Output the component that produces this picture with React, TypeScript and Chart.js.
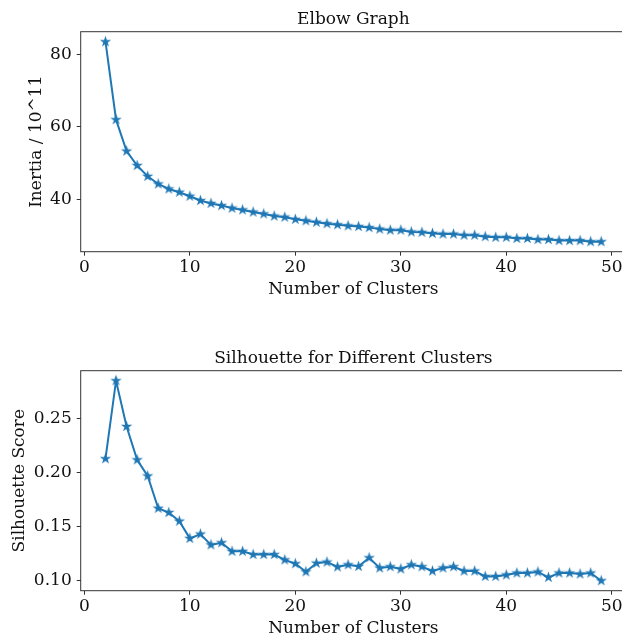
import React, { useEffect, useRef } from "react";
import { Chart, registerables } from "chart.js";

Chart.register(...registerables);

// Number of clusters tried (k)
const clusters = [
  2, 3, 4, 5, 6, 7, 8, 9, 10, 11, 12, 13, 14, 15, 16, 17, 18, 19, 20, 21, 22, 23, 24, 25,
  26, 27, 28, 29, 30, 31, 32, 33, 34, 35, 36, 37, 38, 39, 40, 41, 42, 43, 44, 45, 46, 47, 48, 49,
];

// KMeans inertia, in units of 10^11
const inertia = [
  83.6, 62.0, 53.3, 49.3, 46.3, 44.2, 42.8, 41.9, 40.8, 39.6, 38.8, 38.2, 37.5, 37.0, 36.4, 35.9,
  35.3, 35.0, 34.4, 34.0, 33.6, 33.2, 32.9, 32.6, 32.4, 32.1, 31.7, 31.4, 31.4, 30.9, 30.8, 30.5,
  30.3, 30.3, 30.0, 30.0, 29.6, 29.4, 29.4, 29.1, 29.1, 28.8, 28.8, 28.5, 28.5, 28.5, 28.2, 28.2,
];

// Mean silhouette score per k
const silhouette = [
  0.213, 0.2855, 0.243, 0.212, 0.197, 0.167, 0.163, 0.155, 0.139, 0.143, 0.133, 0.135, 0.127,
  0.127, 0.124, 0.124, 0.124, 0.119, 0.1155, 0.108, 0.116, 0.117, 0.1125, 0.1145, 0.113, 0.121,
  0.1115, 0.1127, 0.1106, 0.1145, 0.1127, 0.1087, 0.1115, 0.1127, 0.1087, 0.1087, 0.1037, 0.1037,
  0.105, 0.1068, 0.1068, 0.1078, 0.1028, 0.1068, 0.1068, 0.1059, 0.1068, 0.0997,
];

const xTicksStep = 10;

const LINE = "#1f77b4";
const INK = "#111111";
const SPINE = "#333333";
const FAMILY = "'DejaVu Serif', serif";
const FONT_SIZE = 17;

const CANVAS_W = 660;
const CANVAS_H = 310;
const PLOT_RIGHT = 626;

// Filled five-point star, like matplotlib's "*" marker
function makeStar(color: string): HTMLCanvasElement {
  const c = document.createElement("canvas");
  const s = 13;
  c.width = s;
  c.height = s;
  const ctx = c.getContext("2d")!;
  const R = 4.2;
  const r = R * 0.382;
  ctx.beginPath();
  for (let i = 0; i < 10; i++) {
    const a = -Math.PI / 2 + (i * Math.PI) / 5;
    const rad = i % 2 ? r : R;
    ctx.lineTo(s / 2 + rad * Math.cos(a), s / 2 + rad * Math.sin(a));
  }
  ctx.closePath();
  ctx.fillStyle = color;
  ctx.fill();
  ctx.strokeStyle = color;
  ctx.lineWidth = 1.1;
  ctx.lineJoin = "miter";
  ctx.stroke();
  return c;
}

// Axes title above the plot area plus a full frame around it
const panelFrame = {
  id: "panelFrame",
  afterDatasetsDraw(chart: any, _args: any, opts: any) {
    const { ctx, chartArea } = chart;
    ctx.save();
    ctx.strokeStyle = SPINE;
    ctx.lineWidth = 1;
    ctx.strokeRect(chartArea.left, chartArea.top, chartArea.right - chartArea.left, chartArea.bottom - chartArea.top);
    ctx.fillStyle = INK;
    ctx.font = `${FONT_SIZE}px ${FAMILY}`;
    ctx.textAlign = "center";
    ctx.textBaseline = "alphabetic";
    ctx.fillText(opts.text, (chartArea.left + chartArea.right) / 2, chartArea.top - 7.5);
    ctx.restore();
  },
};

function padded(values: number[]): [number, number] {
  const lo = Math.min(...values);
  const hi = Math.max(...values);
  const m = (hi - lo) * 0.05;
  return [lo - m, hi + m];
}

type PanelProps = {
  title: string;
  yLabel: string;
  values: number[];
  yStep: number;
  decimals: number;
  yTitleOffset: number;
  top: number;
};

function Panel({ title, yLabel, values, yStep, decimals, yTitleOffset, top }: PanelProps) {
  const ref = useRef<HTMLCanvasElement | null>(null);

  useEffect(() => {
    const canvas = ref.current;
    if (!canvas) return;
    const star = makeStar(LINE);
    const [xMin, xMax] = padded(clusters);
    const [yMin, yMax] = padded(values);
    const font = { family: FAMILY, size: FONT_SIZE };
    const grid = {
      display: true,
      drawOnChartArea: false,
      drawTicks: true,
      tickLength: 4,
      color: SPINE,
      lineWidth: 1,
    };

    const chart = new Chart(canvas, {
      type: "line",
      data: {
        datasets: [
          {
            data: clusters.map((k, i) => ({ x: k, y: values[i] })),
            borderColor: LINE,
            backgroundColor: LINE,
            borderWidth: 2,
            tension: 0,
            fill: false,
            pointStyle: star,
            pointRadius: 4,
          },
        ],
      },
      options: {
        responsive: false,
        animation: false,
        devicePixelRatio: 1,
        events: [],
        layout: { padding: { top: 31.7, right: CANVAS_W - PLOT_RIGHT, bottom: 0, left: 0 } },
        plugins: {
          legend: { display: false },
          tooltip: { enabled: false },
          panelFrame: { text: title },
        } as any,
        scales: {
          x: {
            type: "linear",
            min: xMin,
            max: xMax,
            grid,
            border: { display: false },
            ticks: {
              stepSize: xTicksStep,
              includeBounds: false,
              font,
              color: INK,
              padding: 2,
              maxRotation: 0,
              autoSkip: false,
            },
            title: {
              display: true,
              text: "Number of Clusters",
              font,
              color: INK,
              padding: { top: 0, bottom: 10.5 },
            },
            afterFit: (s: any) => {
              s.height = 58.3;
            },
          },
          y: {
            type: "linear",
            min: yMin,
            max: yMax,
            grid,
            border: { display: false },
            ticks: {
              stepSize: yStep,
              includeBounds: false,
              font,
              color: INK,
              padding: 5,
              callback: (v: any) => Number(v).toFixed(decimals),
            },
            title: {
              display: true,
              text: yLabel,
              font,
              color: INK,
              padding: { top: yTitleOffset, bottom: 0 },
            },
            afterFit: (s: any) => {
              s.width = 80.7;
            },
          },
        },
      },
      plugins: [panelFrame],
    });
    return () => chart.destroy();
  }, [title, yLabel, values, yStep, decimals, yTitleOffset]);

  return (
    <canvas
      ref={ref}
      width={CANVAS_W}
      height={CANVAS_H}
      style={{ position: "absolute", left: 0, top, width: CANVAS_W, height: CANVAS_H }}
    />
  );
}

export default function App() {
  return (
    <div
      style={{
        position: "fixed",
        left: 0,
        top: 0,
        width: 622,
        height: 637,
        overflow: "hidden",
        background: "#ffffff",
      }}
    >
      <Panel
        title="Elbow Graph"
        yLabel="Inertia / 10^11"
        values={inertia}
        yStep={20}
        decimals={0}
        yTitleOffset={26.5}
        top={0}
      />
      <Panel
        title="Silhouette for Different Clusters"
        yLabel="Silhouette Score"
        values={silhouette}
        yStep={0.05}
        decimals={2}
        yTitleOffset={9.5}
        top={339}
      />
    </div>
  );
}
